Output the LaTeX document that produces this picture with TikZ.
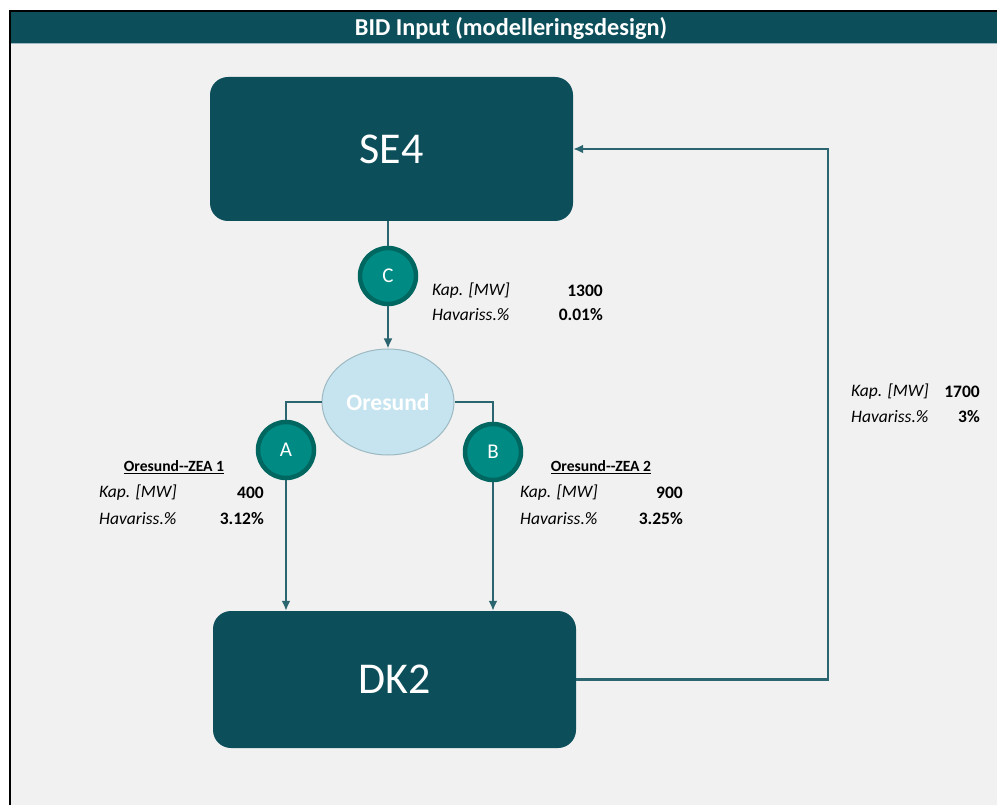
\documentclass[tikz,border=0pt]{standalone}
\usepackage{fontspec}
\setmainfont{Carlito}
\usetikzlibrary{arrows.meta,shapes.geometric}
\definecolor{darkteal}{HTML}{0C4F5B}
\definecolor{circfill}{HTML}{008A84}
\definecolor{circline}{HTML}{006660}
\definecolor{ellfill}{HTML}{C5E4EF}
\definecolor{ellline}{HTML}{9DB9C2}
\definecolor{conn}{HTML}{2A6570}
\definecolor{bg}{HTML}{F1F1F1}
\tikzset{
  x=1pt,y=-1pt,
  bigbox/.style={draw=none,fill=darkteal,rounded corners=18pt,minimum width=363pt,text=white,font=\fontsize{44}{48}\selectfont,inner sep=0pt},
  letter/.style={circle,draw=circline,line width=4.5pt,fill=circfill,minimum size=56pt,inner sep=0pt,text=white,font=\fontsize{21}{24}\selectfont},
  conline/.style={draw=conn,line width=2.2pt},
  arr/.style={conline,-{Latex[length=10pt,width=9pt]}},
  lab/.style={anchor=west,inner sep=0pt,font=\fontsize{17.5}{20}\selectfont\itshape},
  val/.style={anchor=east,inner sep=0pt,font=\fontsize{17.5}{20}\selectfont\bfseries},
  ttl/.style={anchor=center,inner sep=0pt,font=\fontsize{15.6}{20}\selectfont\bfseries},
}
\begin{document}
\begin{tikzpicture}
\useasboundingbox (0,0) rectangle (997,805);
\fill[white] (0,0) rectangle (997,805);
\fill[bg] (10,11) rectangle (997,805);
\fill[darkteal] (11,12) rectangle (997,43);
\draw[black,line width=1.5pt] (10,805) -- (10,11) -- (997,11);
\draw[ellline,line width=0.6pt] (11,43.5) -- (997,43.5);
\node[text=white,font=\fontsize{24.3}{28}\selectfont\bfseries] (title) at (511,29) {BID Input (modelleringsdesign)};

\node[bigbox,minimum height=144pt] (SE4) at (391.5,149) {SE4};
\node[bigbox,minimum height=137pt] (DK2) at (394.5,679.5) {DK2};
\node[letter] (C) at (388,276) {C};
\node[letter] (A) at (286,450) {A};
\node[letter] (B) at (493,452) {B};
\node[ellipse,draw=ellline,line width=1pt,fill=ellfill,minimum width=132pt,minimum height=106pt,text=white,font=\fontsize{23.5}{26}\selectfont\bfseries] (ore) at (388,402) {Oresund};
\coordinate (rc) at (828,400);

\draw[conline] (SE4.south -| C) -- (C.north);
\draw[arr] (C.south) -- (ore.north);
\draw[conline] (ore.west) -| (A.north);
\draw[conline] (ore.east) -| (B.north);
\draw[arr] (A.south) -- (A.south |- DK2.north);
\draw[arr] (B.south) -- (B.south |- DK2.north);
\draw[arr] (DK2.east) -| (rc) |- (SE4.east);

\node[lab] (ck) at (432,291) {Kap. [MW]};
\node[val] (cv) at (603,291) {1300};
\node[lab] (ch) at (432,315) {Havariss.\%};
\node[val] (chv) at (603,315) {0.01\%};

\node[ttl] (at) at (174,467) {\underline{Oresund-{}-ZEA 1}};
\node[lab] (ak) at (99,493) {Kap. [MW]};
\node[val] (av) at (264,493) {400};
\node[lab] (ah) at (99,519) {Havariss.\%};
\node[val] (ahv) at (264,519) {3.12\%};

\node[ttl] (bt) at (601,467) {\underline{Oresund-{}-ZEA 2}};
\node[lab] (bk) at (520,493) {Kap. [MW]};
\node[val] (bv) at (683,493) {900};
\node[lab] (bh) at (520,519) {Havariss.\%};
\node[val] (bhv) at (683,519) {3.25\%};

\node[lab] (rk) at (851,392) {Kap. [MW]};
\node[val] (rv) at (980,392) {1700};
\node[lab] (rh) at (851,417) {Havariss.\%};
\node[val] (rhv) at (980,417) {3\%};
\end{tikzpicture}
\end{document}
